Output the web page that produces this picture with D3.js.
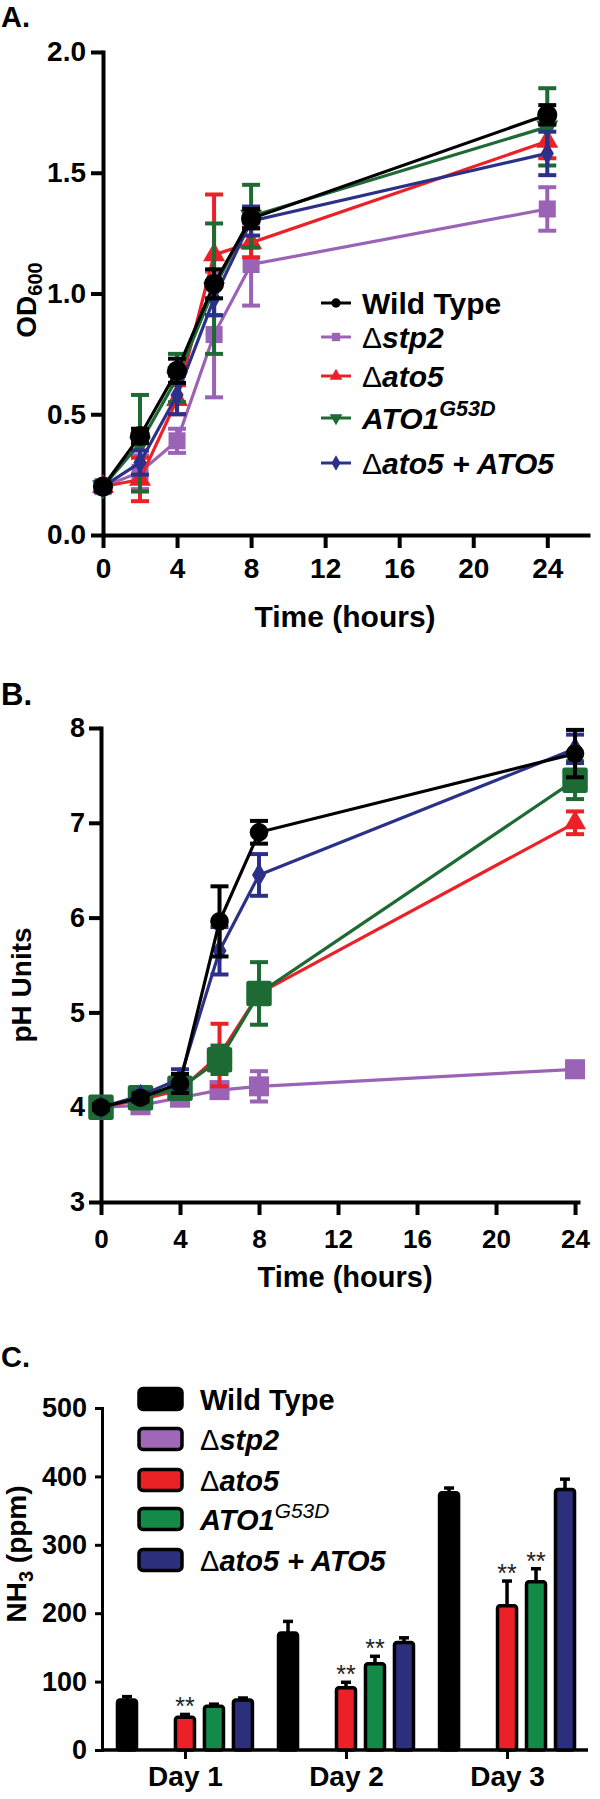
<!DOCTYPE html>
<html><head><meta charset="utf-8">
<script src="https://cdn.jsdelivr.net/npm/d3@7"></script>
<style>body{margin:0;background:#fff} text{font-family:"Liberation Sans",Arial,sans-serif}</style>
</head><body>
<script>
// ---------- data ----------
const hours = [0, 2, 4, 6, 8, 24];
const hourTicks = [0, 4, 8, 12, 16, 20, 24];
const seriesKeys = ["wt", "stp2", "ato5", "ato1", "resc"];
const seriesNames = ["Wild Type", "Δstp2", "Δato5", "ATO1G53D", "Δato5 + ATO5"];

// Panel A: OD600
const odWT    = [0.20, 0.41, 0.68, 1.04, 1.31, 1.74];
const odWTErr = [0.01, 0.03, 0.05, 0.06, 0.04, 0.04];
const odStp2    = [0.20, 0.26, 0.39, 0.83, 1.12, 1.35];
const odStp2Err = [0.02, 0.07, 0.05, 0.26, 0.17, 0.09];
const odAto5    = [0.20, 0.23, 0.56, 1.16, 1.21, 1.63];
const odAto5Err = [0.02, 0.09, 0.06, 0.25, 0.06, 0.07];
const odAto1    = [0.20, 0.38, 0.65, 1.02, 1.32, 1.69];
const odAto1Err = [0.02, 0.20, 0.10, 0.27, 0.13, 0.16];
const odResc    = [0.20, 0.30, 0.58, 0.98, 1.30, 1.58];
const odRescErr = [0.02, 0.05, 0.08, 0.07, 0.06, 0.09];
const odTicks = [0, 0.5, 1.0, 1.5, 2.0];

// Panel B: pH
const phWT    = [4.00, 4.10, 4.25, 5.96, 6.90, 7.73];
const phWTErr = [0.03, 0.04, 0.10, 0.37, 0.12, 0.25];
const phStp2    = [4.00, 4.02, 4.10, 4.18, 4.22, 4.40];
const phStp2Err = [0.02, 0.03, 0.05, 0.08, 0.16, 0.08];
const phAto5    = [4.00, 4.08, 4.18, 4.55, 5.20, 7.00];
const phAto5Err = [0.02, 0.03, 0.06, 0.33, 0.10, 0.12];
const phAto1    = [4.00, 4.10, 4.20, 4.50, 5.20, 7.45];
const phAto1Err = [0.02, 0.05, 0.08, 0.15, 0.33, 0.20];
const phResc    = [4.00, 4.12, 4.30, 5.65, 6.45, 7.78];
const phRescErr = [0.02, 0.04, 0.10, 0.25, 0.22, 0.15];
const phTicks = [3, 4, 5, 6, 7, 8];

// Panel C: NH3 (ppm)
const days = ["Day 1", "Day 2", "Day 3"];
const nhWT    = [73, 171, 376];
const nhWTErr = [5, 17, 7];
const nhStp2    = [0, 0, 0];
const nhStp2Err = [0, 0, 0];
const nhAto5    = [48, 91, 211];
const nhAto5Err = [4, 8, 36];
const nhAto1    = [64, 126, 246];
const nhAto1Err = [3, 11, 19];
const nhResc    = [73, 157, 381];
const nhRescErr = [3, 7, 15];
const nhTicks = [0, 100, 200, 300, 400, 500];
const nhSignif = { ato5: ["**", "**", "**"], ato1: ["", "**", "**"] };

// ---------- styling ----------
const lineColor = { wt: "#000000", stp2: "#9b63b6", ato5: "#ec2027", ato1: "#1e6a34", resc: "#2b3188" };
const barColor  = { wt: "#000000", stp2: "#a066b8", ato5: "#ec2027", ato1: "#138a48", resc: "#2c2f7c" };
const FONT = "'Liberation Sans', Arial, sans-serif";

const svg = d3.select("body").append("svg").attr("width", 600).attr("height", 1799);

function legendText(sel, i, size, supWeight) {
  const k = seriesKeys[i];
  sel.attr("font-size", size);
  if (k === "wt") { sel.append("tspan").attr("font-weight", "bold").text(seriesNames[i]); return; }
  if (k === "ato1") {
    sel.append("tspan").attr("font-weight", "bold").attr("font-style", "italic").text("ATO1");
    sel.append("tspan").attr("font-weight", supWeight).attr("font-style", "italic")
      .attr("font-size", size * 0.72).attr("dy", -size * 0.42).text("G53D");
    return;
  }
  sel.append("tspan").attr("font-weight", "normal").text("Δ");
  sel.append("tspan").attr("font-weight", "bold").attr("font-style", "italic").text(seriesNames[i].slice(1));
}

function styleAxis(g, fs) {
  g.selectAll("path.domain").attr("stroke", "#000").attr("stroke-width", 4).attr("stroke-linecap", "square");
  g.selectAll(".tick line").attr("stroke", "#000").attr("stroke-width", 4);
  g.selectAll(".tick text").attr("font-family", FONT).attr("font-weight", "bold").attr("font-size", fs).attr("fill", "#000");
}

function symbolFor(k, panel) {
  if (k === "wt") return { t: d3.symbolCircle, s: panel === "A" ? 320 : 270, r: 0 };
  if (k === "stp2") return { t: d3.symbolSquare, s: panel === "A" ? 290 : 400, r: 0 };
  if (k === "ato5") return { t: d3.symbolTriangle, s: 210, r: 0 };
  if (k === "ato1") return panel === "A" ? { t: d3.symbolTriangle, s: 210, r: 180 } : { t: d3.symbolSquare, s: 420, r: 0, round: true };
  return { t: d3.symbolDiamond, s: panel === "A" ? 150 : 170, r: 0 };
}

function linePanel(panel, x, y, series) {
  const g = svg.append("g");
  const order = ["stp2", "ato5", "ato1", "resc", "wt"];
  order.forEach(k => {
    const vals = series[k][0], errs = series[k][1];
    const pts = hours.map((h, i) => ({ h, v: vals[i], e: errs[i] }));
    const c = lineColor[k];
    g.append("path").datum(pts)
      .attr("d", d3.line().x(d => x(d.h)).y(d => y(d.v)))
      .attr("fill", "none").attr("stroke", c).attr("stroke-width", 3.2);
    const eb = g.append("g").attr("stroke", c).attr("stroke-width", 4);
    pts.forEach(d => {
      eb.append("line").attr("x1", x(d.h)).attr("x2", x(d.h)).attr("y1", y(d.v - d.e)).attr("y2", y(d.v + d.e));
      [d.v - d.e, d.v + d.e].forEach(v => eb.append("line").attr("x1", x(d.h) - 9).attr("x2", x(d.h) + 9).attr("y1", y(v)).attr("y2", y(v)));
    });
    const sy = symbolFor(k, panel);
    g.selectAll(null).data(pts).enter().append("path")
      .attr("d", d3.symbol().type(sy.t).size(sy.s))
      .attr("transform", d => `translate(${x(d.h)},${y(d.v)}) rotate(${sy.r})`)
      .attr("fill", c)
      .attr("stroke", sy.round ? c : "none").attr("stroke-width", sy.round ? 5 : 0).attr("stroke-linejoin", "round");
  });
}

// ---------- Panel A ----------
const xA = d3.scaleLinear().domain([0, 26.2]).range([103, 588]);
const yA = d3.scaleLinear().domain([0, 2]).range([535, 52]);
svg.append("text").attr("x", 1).attr("y", 27).attr("font-size", 29).attr("font-weight", 900).attr("font-family", FONT).text("A.");
const gyA = svg.append("g").attr("transform", "translate(103,0)")
  .call(d3.axisLeft(yA).tickValues(odTicks).tickFormat(d3.format(".1f")).tickSize(12).tickSizeOuter(0).tickPadding(5));
styleAxis(gyA, 28);
const gxA = svg.append("g").attr("transform", "translate(0,535)")
  .call(d3.axisBottom(xA).tickValues(hourTicks).tickSize(13).tickSizeOuter(0).tickPadding(10));
styleAxis(gxA, 28);
svg.append("text").attr("transform", "translate(36,300) rotate(-90)").attr("text-anchor", "middle")
  .attr("font-family", FONT).attr("font-weight", "bold").attr("font-size", 28)
  .call(t => { t.append("tspan").text("OD"); t.append("tspan").attr("font-size", 20).attr("dy", 6).text("600"); });
svg.append("text").attr("x", 345).attr("y", 627).attr("text-anchor", "middle").attr("font-family", FONT)
  .attr("font-weight", "bold").attr("font-size", 30).text("Time (hours)");

linePanel("A", xA, yA, {
  wt: [odWT, odWTErr], stp2: [odStp2, odStp2Err], ato5: [odAto5, odAto5Err], ato1: [odAto1, odAto1Err], resc: [odResc, odRescErr]
});

// Legend A
const legAY = [303, 337, 376, 418, 463];
const legA = svg.append("g");
seriesKeys.forEach((k, i) => {
  const cy = legAY[i];
  legA.append("line").attr("x1", 321).attr("x2", 351).attr("y1", cy).attr("y2", cy).attr("stroke", lineColor[k]).attr("stroke-width", 3);
  const sy = symbolFor(k, "A");
  legA.append("path").attr("d", d3.symbol().type(sy.t).size(70))
    .attr("transform", `translate(336,${cy}) rotate(${sy.r})`).attr("fill", lineColor[k]);
  legA.append("text").attr("x", 362).attr("y", cy + 11).attr("font-family", FONT).call(t => legendText(t, i, 30, "bold"));
});

// ---------- Panel B ----------
const xB = d3.scaleLinear().domain([0, 24.15]).range([101, 578]);
const yB = d3.scaleLinear().domain([3, 8]).range([1202, 728]);
svg.append("text").attr("x", 1).attr("y", 705).attr("font-size", 31).attr("font-weight", 900).attr("font-family", FONT).text("B.");
const gyB = svg.append("g").attr("transform", "translate(101,0)")
  .call(d3.axisLeft(yB).tickValues(phTicks).tickFormat(d3.format("d")).tickSize(12).tickSizeOuter(0).tickPadding(4));
styleAxis(gyB, 27);
const gxB = svg.append("g").attr("transform", "translate(0,1202)")
  .call(d3.axisBottom(xB).tickValues(hourTicks).tickSize(13).tickSizeOuter(0).tickPadding(15));
styleAxis(gxB, 26);
svg.append("text").attr("transform", "translate(31,985) rotate(-90)").attr("text-anchor", "middle")
  .attr("font-family", FONT).attr("font-weight", "bold").attr("font-size", 28).text("pH Units");
svg.append("text").attr("x", 345).attr("y", 1287).attr("text-anchor", "middle").attr("font-family", FONT)
  .attr("font-weight", "bold").attr("font-size", 29).text("Time (hours)");

linePanel("B", xB, yB, {
  wt: [phWT, phWTErr], stp2: [phStp2, phStp2Err], ato5: [phAto5, phAto5Err], ato1: [phAto1, phAto1Err], resc: [phResc, phRescErr]
});

// ---------- Panel C ----------
svg.append("text").attr("x", 1).attr("y", 1367).attr("font-size", 29).attr("font-weight", 900).attr("font-family", FONT).text("C.");
const x0 = d3.scaleBand().domain(days).range([112.5, 579.5]).paddingInner(0.1).paddingOuter(0);
const x1 = d3.scaleBand().domain(seriesKeys).range([0, x0.bandwidth()]).paddingInner(0.24).paddingOuter(0.12);
const yC = d3.scaleLinear().domain([0, 500]).range([1750, 1408]);

const gyC = svg.append("g").attr("transform", "translate(102,0)")
  .call(d3.axisLeft(yC).tickValues(nhTicks).tickSize(7).tickSizeOuter(0).tickPadding(8));
styleAxis(gyC, 27);
gyC.selectAll("path.domain").attr("stroke-width", 3);
gyC.selectAll(".tick line").attr("stroke-width", 3);
const xCaxis = d3.scaleLinear().domain([0, 1]).range([102, 588]);
svg.append("line").attr("x1", xCaxis(0)).attr("x2", xCaxis(1)).attr("y1", yC(0)).attr("y2", yC(0)).attr("stroke", "#000").attr("stroke-width", 3.5);
const gxC = svg.append("g").attr("transform", `translate(0,${yC(0)})`)
  .call(d3.axisBottom(d3.scalePoint().domain(days).range([x0("Day 1") + x0.bandwidth() / 2, x0("Day 3") + x0.bandwidth() / 2]))
    .tickSize(9).tickSizeOuter(0).tickPadding(7));
styleAxis(gxC, 28);
gxC.selectAll("path.domain").remove();
gxC.selectAll(".tick line").attr("stroke-width", 3);

svg.append("text").attr("transform", "translate(26,1554) rotate(-90)").attr("text-anchor", "middle")
  .attr("font-family", FONT).attr("font-weight", "bold").attr("font-size", 28)
  .call(t => {
    t.append("tspan").text("NH");
    t.append("tspan").attr("font-size", 20).attr("dy", 7).text("3");
    t.append("tspan").attr("dy", -7).attr("font-weight", "bold").text(" (ppm)");
  });

const nhData = { wt: [nhWT, nhWTErr], stp2: [nhStp2, nhStp2Err], ato5: [nhAto5, nhAto5Err], ato1: [nhAto1, nhAto1Err], resc: [nhResc, nhRescErr] };
const gC = svg.append("g");
days.forEach((day, di) => {
  seriesKeys.forEach(k => {
    const v = nhData[k][0][di], e = nhData[k][1][di];
    if (v <= 0) return;
    const bx = x0(day) + x1(k), bw = x1.bandwidth();
    const cx = bx + bw / 2;
    gC.append("line").attr("x1", cx).attr("x2", cx).attr("y1", yC(v)).attr("y2", yC(v + e)).attr("stroke", "#000").attr("stroke-width", 3.5);
    gC.append("line").attr("x1", cx - 5).attr("x2", cx + 5).attr("y1", yC(v + e)).attr("y2", yC(v + e)).attr("stroke", "#000").attr("stroke-width", 3.5);
    gC.append("rect").attr("x", bx + 1.5).attr("y", yC(v)).attr("width", bw - 3).attr("height", yC(0) - yC(v))
      .attr("rx", 2.5).attr("fill", barColor[k]).attr("stroke", "#000").attr("stroke-width", 3.5);
    const sig = nhSignif[k] ? nhSignif[k][di] : "";
    if (sig) {
      gC.append("text").attr("x", cx).attr("y", yC(v + e) + 1).attr("text-anchor", "middle")
        .attr("font-family", FONT).attr("font-size", 25).attr("fill", "#222").text(sig);
    }
  });
});

// Legend C
const legCY = [1399, 1439, 1480, 1519, 1560];
const legC = svg.append("g");
seriesKeys.forEach((k, i) => {
  const cy = legCY[i];
  legC.append("rect").attr("x", 139).attr("y", cy - 10.5).attr("width", 43).attr("height", 21).attr("rx", 4)
    .attr("fill", barColor[k]).attr("stroke", "#000").attr("stroke-width", 3.5);
  legC.append("text").attr("x", 200).attr("y", cy + 11).attr("font-family", FONT).call(t => legendText(t, i, 29, "normal"));
});
</script>
</body></html>
